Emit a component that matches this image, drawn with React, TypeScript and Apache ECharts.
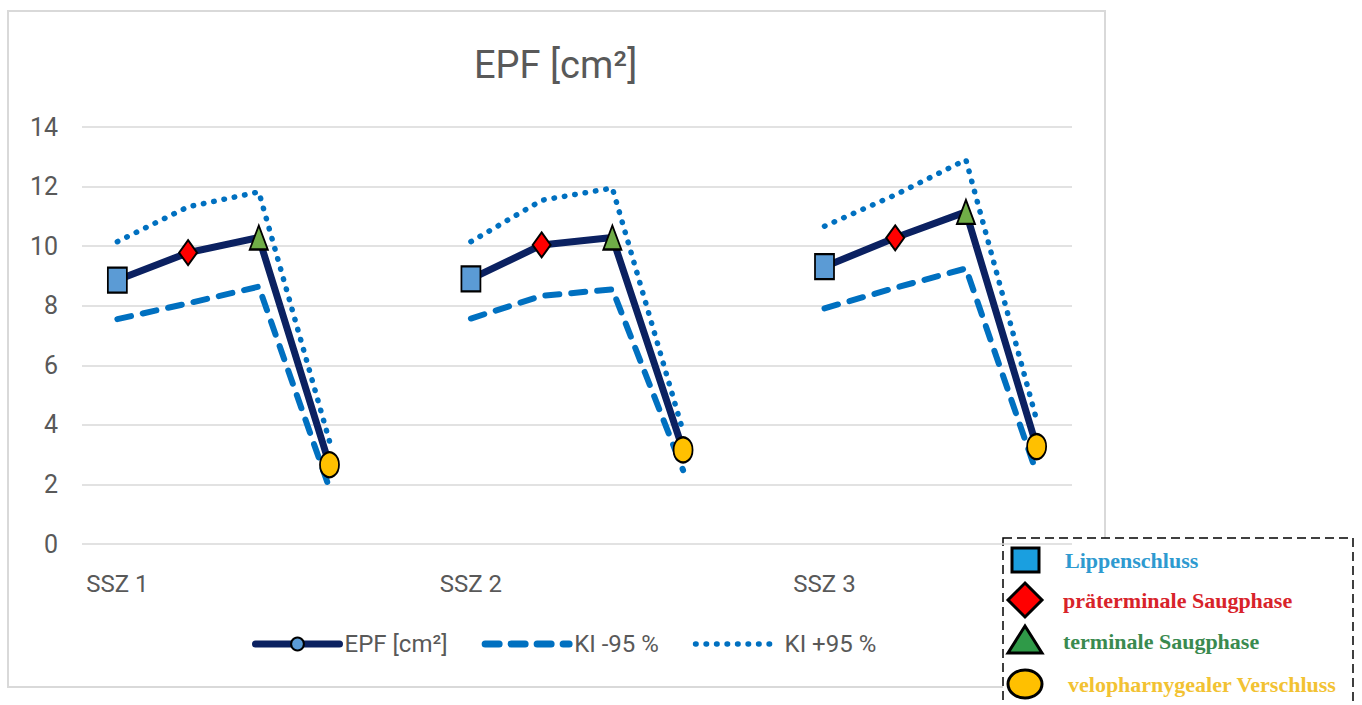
import React, { useEffect, useRef } from "react";
import * as echarts from "echarts";

// Measurement groups and suction phases
const groups = ["SSZ 1", "SSZ 2", "SSZ 3"];
const phases = [
  "Lippenschluss",
  "präterminale Saugphase",
  "terminale Saugphase",
  "velopharnygealer Verschluss",
];

// EPF [cm²] per group, one value per phase
const epfSSZ1 = [8.86, 9.78, 10.29, 2.66];
const epfSSZ2 = [8.9, 10.04, 10.29, 3.16];
const epfSSZ3 = [9.31, 10.28, 11.15, 3.27];

// Lower bound of the 95 % confidence interval
const kiLowerSSZ1 = [7.55, 8.08, 8.64, 1.87];
const kiLowerSSZ2 = [7.57, 8.33, 8.55, 2.48];
const kiLowerSSZ3 = [7.91, 8.6, 9.25, 2.38];

// Upper bound of the 95 % confidence interval
const kiUpperSSZ1 = [10.15, 11.32, 11.82, 3.45];
const kiUpperSSZ2 = [10.15, 11.54, 11.95, 3.78];
const kiUpperSSZ3 = [10.67, 11.72, 12.9, 4.16];

const yMin = 0;
const yMax = 14;
const yStep = 2;

const seriesNames = ["EPF [cm²]", "KI -95 %", "KI +95 %"];

// Marker look per phase (chart markers and the side key)
const phaseSymbols = ["rect", "diamond", "triangle", "circle"];
const phaseFills = ["#5b9bd5", "#ff0000", "#70ad47", "#ffc000"];
const keyFills = ["#1a9fe0", "#ff0000", "#2f9a48", "#ffc000"];
const keyTextColors = ["#2e9ad0", "#d8232a", "#3a8a4f", "#f2c232"];
const phaseSymbolSizes: [number, number][] = [
  [19, 25],
  [18, 25],
  [18, 24],
  [19, 25],
];

const AXIS_TEXT = "#595959";
const FONT = "Roboto, sans-serif";
const EPF_COLOR = "#0b2161";
const KI_COLOR = "#0070c0";
const KI_LOWER_DASH = [14, 12];
const KI_UPPER_DASH = [0.5, 10];

// Flatten groups into one category axis with an empty slot between groups
const categories: string[] = [];
groups.forEach((g, gi) => {
  phases.forEach((p) => categories.push(`${g}|${p}`));
  if (gi < groups.length - 1) categories.push(`gap${gi}`);
});

function flatten(perGroup: number[][]): (number | null)[] {
  const out: (number | null)[] = [];
  perGroup.forEach((vals, gi) => {
    vals.forEach((v) => out.push(v));
    if (gi < perGroup.length - 1) out.push(null);
  });
  return out;
}

const epf = flatten([epfSSZ1, epfSSZ2, epfSSZ3]);
const kiLower = flatten([kiLowerSSZ1, kiLowerSSZ2, kiLowerSSZ3]);
const kiUpper = flatten([kiUpperSSZ1, kiUpperSSZ2, kiUpperSSZ3]);

const epfData = epf.map((v, i) => {
  if (v === null) return null;
  const phase = phases.indexOf(categories[i].split("|")[1]);
  return {
    value: v,
    symbol: phaseSymbols[phase],
    symbolSize: phaseSymbolSizes[phase],
    itemStyle: {
      color: phaseFills[phase],
      borderColor: "#000000",
      borderWidth: 2,
    },
  };
});

// Side key with phase markers
const keyX = 1025;
const keyRows = [560, 600, 641, 684];
const keyShapes = (): any[] => {
  const els: any[] = [];
  const stroke = { stroke: "#000000", lineWidth: 3 };
  keyRows.forEach((cy, i) => {
    const fill = keyFills[i];
    if (i === 0) {
      els.push({ type: "rect", shape: { x: keyX - 13, y: cy - 12, width: 27, height: 24 }, style: { fill, ...stroke } });
    } else if (i === 1) {
      els.push({
        type: "polygon",
        shape: { points: [[keyX, cy - 17], [keyX + 17, cy], [keyX, cy + 17], [keyX - 17, cy]] },
        style: { fill, ...stroke },
      });
    } else if (i === 2) {
      els.push({
        type: "polygon",
        shape: { points: [[keyX, cy - 15], [keyX + 17, cy + 12], [keyX - 17, cy + 12]] },
        style: { fill, ...stroke },
      });
    } else {
      els.push({ type: "ellipse", shape: { cx: keyX, cy, rx: 17, ry: 14 }, style: { fill, ...stroke } });
    }
    els.push({
      type: "text",
      x: i === 3 ? 1068 : i === 0 ? 1065 : 1063,
      y: cy,
      style: {
        text: phases[i],
        fill: keyTextColors[i],
        font: "bold 22px 'Liberation Serif', 'Times New Roman', serif",
        verticalAlign: "middle",
        align: "left",
      },
    });
  });
  return els;
};

export default function App() {
  const ref = useRef<HTMLDivElement>(null);

  useEffect(() => {
    if (!ref.current) return;
    const chart = echarts.init(ref.current, undefined, { renderer: "svg" });

    const option: any = {
      animation: false,
      backgroundColor: "#ffffff",
      title: {
        text: "EPF [cm²]",
        left: 474,
        top: 46,
        padding: 0,
        textStyle: { color: AXIS_TEXT, fontSize: 38, fontWeight: "normal", fontFamily: FONT },
      },
      grid: { left: 82, right: 290, top: 127, bottom: 161 },
      legend: {
        left: 247,
        top: 627,
        itemWidth: 84,
        itemHeight: 16,
        itemGap: 34,
        textStyle: { color: AXIS_TEXT, fontSize: 24, fontFamily: FONT },
        data: [
          {
            name: seriesNames[0],
            lineStyle: { color: EPF_COLOR, width: 7, cap: "round" },
            itemStyle: { color: "#5b9bd5", borderColor: "#000000", borderWidth: 2 },
          },
          {
            name: seriesNames[1],
            lineStyle: { color: KI_COLOR, width: 7, type: KI_LOWER_DASH, cap: "round" },
            itemStyle: { opacity: 0 },
          },
          {
            name: seriesNames[2],
            lineStyle: { color: KI_COLOR, width: 5.5, type: KI_UPPER_DASH, cap: "round" },
            itemStyle: { opacity: 0 },
          },
        ],
      },
      xAxis: {
        type: "category",
        data: categories,
        boundaryGap: true,
        axisLine: { show: false },
        axisTick: { show: false },
        axisLabel: {
          interval: 0,
          margin: 28,
          color: AXIS_TEXT,
          fontSize: 24,
          fontFamily: FONT,
          formatter: (val: string) => {
            const [g, p] = val.split("|");
            return p === phases[0] ? g : "";
          },
        },
      },
      yAxis: {
        type: "value",
        min: yMin,
        max: yMax,
        interval: yStep,
        axisLine: { show: false },
        axisTick: { show: false },
        axisLabel: { color: AXIS_TEXT, fontSize: 25, fontFamily: FONT, margin: 24 },
        splitLine: { lineStyle: { color: "#d9d9d9", width: 1.5 } },
      },
      graphic: [
        {
          type: "rect",
          z: -1,
          shape: { x: 8, y: 11, width: 1097, height: 676 },
          style: { fill: "none", stroke: "#d9d9d9", lineWidth: 2 },
        },
        {
          type: "group",
          z: 100,
          children: [
            {
              type: "rect",
              shape: { x: 1003, y: 538, width: 350, height: 200 },
              style: { fill: "#ffffff", stroke: "#000000", lineWidth: 1.5, lineDash: [9, 5] },
            },
            ...keyShapes(),
          ],
        },
      ],
      series: [
        {
          name: seriesNames[0],
          type: "line",
          z: 4,
          data: epfData,
          connectNulls: false,
          symbol: "circle",
          symbolSize: 14,
          itemStyle: { color: "#5b9bd5", borderColor: "#000000", borderWidth: 2 },
          lineStyle: { color: EPF_COLOR, width: 7, cap: "round", join: "round" },
        },
        {
          name: seriesNames[1],
          type: "line",
          z: 3,
          data: kiLower,
          connectNulls: false,
          symbol: "none",
          itemStyle: { color: KI_COLOR },
          lineStyle: { color: KI_COLOR, width: 6, type: KI_LOWER_DASH, cap: "round", join: "round" },
        },
        {
          name: seriesNames[2],
          type: "line",
          z: 3,
          data: kiUpper,
          connectNulls: false,
          symbol: "none",
          itemStyle: { color: KI_COLOR },
          lineStyle: { color: KI_COLOR, width: 5.5, type: KI_UPPER_DASH, cap: "round", join: "round" },
        },
      ],
    };

    chart.setOption(option);
    return () => chart.dispose();
  }, []);

  return (
    <div
      ref={ref}
      style={{ position: "fixed", left: 0, top: 0, width: 1362, height: 705, background: "#ffffff" }}
    />
  );
}
